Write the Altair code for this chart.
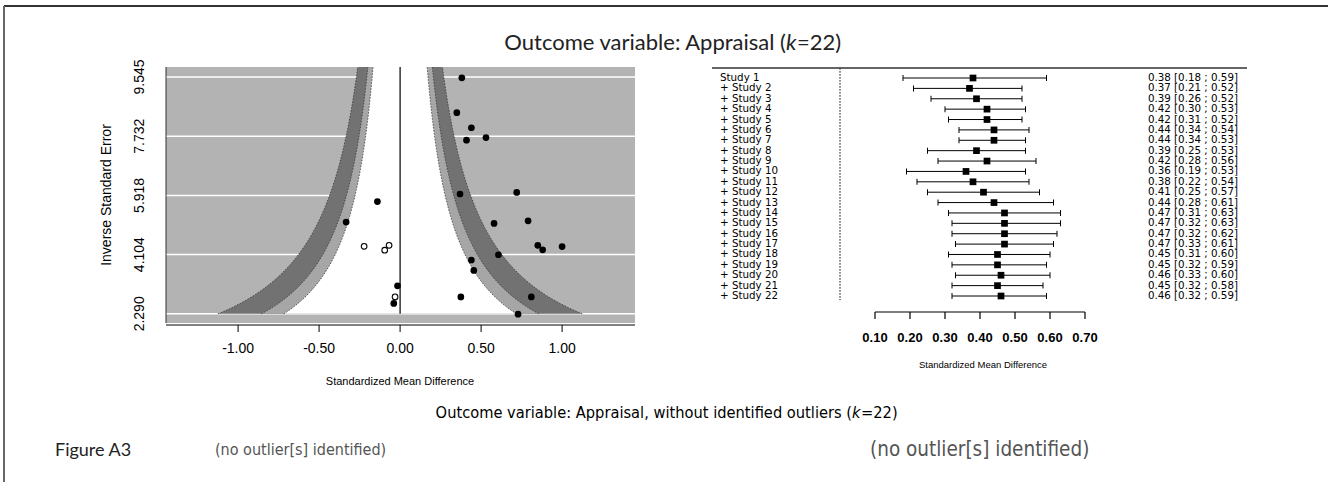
import altair as alt
import pandas as pd
import numpy as np

# ---------------- Funnel plot data ----------------
obs_smd = [-0.14, -0.333, -0.016, -0.039, 0.381, 0.35, 0.44, 0.41, 0.53, 0.37, 0.72,
           0.58, 0.79, 0.85, 0.88, 1.00, 0.607, 0.44, 0.455, 0.375, 0.81, 0.728]
obs_inv = [5.73, 5.10, 3.15, 2.61, 9.52, 8.45, 7.99, 7.61, 7.69, 5.96, 6.01,
           5.06, 5.14, 4.39, 4.25, 4.35, 4.10, 3.94, 3.62, 2.81, 2.81, 2.28]
imp_smd = [-0.222, -0.095, -0.068, -0.031]
imp_inv = [4.36, 4.24, 4.39, 2.81]
funnel_yticks = [2.290, 4.104, 5.918, 7.732, 9.545]
funnel_xticks = [-1.0, -0.5, 0.0, 0.5, 1.0]
contour_z = [2.576, 1.96, 1.645]          # 99%, 95%, 90% contours
contour_fill = ["#727272", "#a6a6a6", "#ffffff"]
funnel_xdom = [-1.445, 1.45]
funnel_ydom = [2.01, 9.85]
contour_ymin = 2.29

# ---------------- Forest (cumulative) plot data ----------------
studies = ["Study 1"] + [f"+ Study {i}" for i in range(2, 23)]
est = [0.38, 0.37, 0.39, 0.42, 0.42, 0.44, 0.44, 0.39, 0.42, 0.36, 0.38,
       0.41, 0.44, 0.47, 0.47, 0.47, 0.47, 0.45, 0.45, 0.46, 0.45, 0.46]
lo = [0.18, 0.21, 0.26, 0.30, 0.31, 0.34, 0.34, 0.25, 0.28, 0.19, 0.22,
      0.25, 0.28, 0.31, 0.32, 0.32, 0.33, 0.31, 0.32, 0.33, 0.32, 0.32]
hi = [0.59, 0.52, 0.52, 0.53, 0.52, 0.54, 0.53, 0.53, 0.56, 0.53, 0.54,
      0.57, 0.61, 0.63, 0.63, 0.62, 0.61, 0.60, 0.59, 0.60, 0.58, 0.59]
forest_xticks = [0.10, 0.20, 0.30, 0.40, 0.50, 0.60, 0.70]
forest_xdom = [0.1, 0.7]

SANS = "DejaVu Sans Condensed, Liberation Sans, sans-serif"
ARIAL = "Liberation Sans, Arial, sans-serif"
WIDE = "DejaVu Sans, Liberation Sans, sans-serif"
HUM = "Lato, Open Sans, sans-serif"

one = pd.DataFrame({"d": [0]})

# ================= Funnel layers =================
fxs = alt.Scale(domain=funnel_xdom, range=[166, 635], nice=False, zero=False)
fys = alt.Scale(domain=funnel_ydom, range=[323, 67], nice=False, zero=False)

def FX(f):
    return alt.X(f, scale=fxs, axis=None)

def FY(f):
    return alt.Y(f, scale=fys, axis=None)

bg_df = pd.DataFrame({"x": [funnel_xdom[0]], "x2": [funnel_xdom[1]],
                      "y": [funnel_ydom[0]], "y2": [funnel_ydom[1]]})
bg = alt.Chart(bg_df).mark_rect(color="#b3b3b3").encode(
    x=FX("x:Q"), x2="x2:Q", y=FY("y:Q"), y2="y2:Q")

grid_df = pd.DataFrame({"g": funnel_yticks, "x": funnel_xdom[0], "x2": funnel_xdom[1]})
grid = alt.Chart(grid_df).mark_rule(color="white", strokeWidth=1.5).encode(
    x=FX("x:Q"), x2="x2:Q", y=FY("g:Q"))

ygrid = np.linspace(contour_ymin, funnel_ydom[1], 150)
bands = []
edges = []
for z, col in zip(contour_z, contour_fill):
    d = pd.DataFrame({"y": ygrid, "l": -z / ygrid, "r": z / ygrid})
    bands.append(alt.Chart(d).mark_area(orient="horizontal", color=col, opacity=1).encode(
        y=FY("y:Q"), x=FX("l:Q"), x2="r:Q"))
    for side in (-1, 1):
        e = pd.DataFrame({"y": ygrid, "x": side * z / ygrid})
        edges.append(alt.Chart(e).mark_line(color="#333333", strokeWidth=0.8,
                                            strokeDash=[1.5, 1.5]).encode(
            y=FY("y:Q"), x=FX("x:Q"), order="y:Q"))

ref_df = pd.DataFrame({"x": [0.0], "y": [contour_ymin], "y2": [funnel_ydom[1]]})
refline = alt.Chart(ref_df).mark_rule(color="black", strokeWidth=1.2).encode(
    x=FX("x:Q"), y=FY("y:Q"), y2="y2:Q")

obs_df = pd.DataFrame({"smd": obs_smd, "inv": obs_inv})
imp_df = pd.DataFrame({"smd": imp_smd, "inv": imp_inv})

pts = alt.Chart(obs_df).mark_circle(size=45, color="black", opacity=1).encode(
    x=FX("smd:Q"), y=FY("inv:Q"))
imp = alt.Chart(imp_df).mark_point(shape="circle", size=32, filled=False, fill="white",
                                   fillOpacity=1, stroke="black", strokeWidth=1.1, opacity=1).encode(
    x=FX("smd:Q"), y=FY("inv:Q"))

# funnel axes drawn through the funnel scales
fx_dom = alt.Chart(bg_df).mark_rule(color="black", strokeWidth=1).encode(
    x=FX("x:Q"), x2="x2:Q", y=alt.value(325))
fxt_df = pd.DataFrame({"t": funnel_xticks, "lab": [f"{v:.2f}" for v in funnel_xticks]})
fx_ticks = alt.Chart(fxt_df).mark_rule(color="black", strokeWidth=1).encode(
    x=FX("t:Q"), y=alt.value(325), y2=alt.value(332))
fx_labs = alt.Chart(fxt_df).mark_text(font=ARIAL, fontSize=14, color="black",
                                      baseline="middle", align="center").encode(
    x=FX("t:Q"), y=alt.value(349), text="lab:N")
fy_dom = alt.Chart(bg_df).mark_rule(color="#333333", strokeWidth=1).encode(
    x=alt.value(166), y=FY("y:Q"), y2="y2:Q")
fyt_df = pd.DataFrame({"t": funnel_yticks, "lab": [f"{v:.3f}" for v in funnel_yticks]})
fy_labs = alt.Chart(fyt_df).mark_text(font=ARIAL, fontSize=14, color="black", angle=270,
                                      baseline="middle", align="center").encode(
    x=alt.value(140), y=FY("t:Q"), text="lab:N")

funnel = alt.layer(bg, grid, *bands, *edges, refline, pts, imp,
                   fx_dom, fx_ticks, fx_labs, fy_dom, fy_labs)

# ================= Forest layers =================
gxs = alt.Scale(domain=forest_xdom, range=[875, 1085], nice=False, zero=False)
gys = alt.Scale(domain=[1, 22], range=[78, 296], nice=False, zero=False)

def GX(f):
    return alt.X(f, scale=gxs, axis=None)

def GY(f):
    return alt.Y(f, scale=gys, axis=None)

rows = list(range(1, 23))
fdf = pd.DataFrame({"row": rows, "study": studies, "est": est, "lo": lo, "hi": hi})
fdf["lab"] = [f"{e:.2f} [{a:.2f} ; {b:.2f}]" for e, a, b in zip(est, lo, hi)]

zero_df = pd.DataFrame({"x": [0.0], "y": [0.05], "y2": [22.4]})
zeroline = alt.Chart(zero_df).mark_rule(color="black", strokeWidth=1, strokeDash=[1.5, 1.5]).encode(
    x=GX("x:Q"), y=GY("y:Q"), y2="y2:Q")

ci = alt.Chart(fdf).mark_rule(color="black", strokeWidth=1).encode(
    x=GX("lo:Q"), x2="hi:Q", y=GY("row:Q"))
cap_lo = alt.Chart(fdf).mark_tick(orient="vertical", size=6, thickness=1, color="black", opacity=1).encode(
    x=GX("lo:Q"), y=GY("row:Q"))
cap_hi = alt.Chart(fdf).mark_tick(orient="vertical", size=6, thickness=1, color="black", opacity=1).encode(
    x=GX("hi:Q"), y=GY("row:Q"))
sq = alt.Chart(fdf).mark_square(size=45, color="black", opacity=1).encode(
    x=GX("est:Q"), y=GY("row:Q"))

labels = alt.Chart(fdf).mark_text(align="left", baseline="middle", font=WIDE, fontSize=10.3,
                                  color="black").encode(
    x=alt.value(720), y=GY("row:Q"), text="study:N")
nums = alt.Chart(fdf).mark_text(align="right", baseline="middle", font=WIDE, fontSize=10.3,
                                color="black").encode(
    x=alt.value(1238), y=GY("row:Q"), text="lab:N")

gdom_df = pd.DataFrame({"x": [forest_xdom[0]], "x2": [forest_xdom[1]]})
gx_dom = alt.Chart(gdom_df).mark_rule(color="black", strokeWidth=1.2).encode(
    x=GX("x:Q"), x2="x2:Q", y=alt.value(312))
gxt_df = pd.DataFrame({"t": forest_xticks, "lab": [f"{v:.2f}" for v in forest_xticks]})
gx_ticks = alt.Chart(gxt_df).mark_rule(color="black", strokeWidth=1.2).encode(
    x=GX("t:Q"), y=alt.value(312), y2=alt.value(319))
gx_labs = alt.Chart(gxt_df).mark_text(font=ARIAL, fontSize=13, fontWeight="bold", color="black",
                                      baseline="middle", align="center").encode(
    x=GX("t:Q"), y=alt.value(338), text="lab:N")

forest = alt.layer(zeroline, ci, cap_lo, cap_hi, sq, labels, nums, gx_dom, gx_ticks, gx_labs)

# ================= Decorations / texts =================
def txt(s, x, y, size, font, align="left", color="black", style="normal",
        baseline="alphabetic", angle=0):
    return alt.Chart(one).mark_text(text=s, align=align, baseline=baseline, fontSize=size,
                                    font=font, color=color, fontStyle=style, angle=angle).encode(
        x=alt.value(x), y=alt.value(y))

frame_top = alt.Chart(one).mark_rule(color="#333333", strokeWidth=2).encode(
    x=alt.value(4), x2=alt.value(1328), y=alt.value(6))
frame_left = alt.Chart(one).mark_rule(color="#666666", strokeWidth=2).encode(
    x=alt.value(4), y=alt.value(6), y2=alt.value(482))
forest_top = alt.Chart(one).mark_rule(color="#333333", strokeWidth=1.5).encode(
    x=alt.value(712), x2=alt.value(1247), y=alt.value(68))

texts = [
    txt("Outcome variable: Appraisal (", 786, 50, 22, HUM, align="right", color="#222222"),
    txt("k", 786, 50, 22, HUM, style="italic", color="#222222"),
    txt("=22)", 797, 50, 22, HUM, color="#222222"),
    txt("Inverse Standard Error", 107, 195, 14, ARIAL, align="center", baseline="middle", angle=270),
    txt("Standardized Mean Difference", 400, 382, 11, ARIAL, align="center", baseline="middle"),
    txt("Standardized Mean Difference", 983, 365, 9.5, ARIAL, align="center", baseline="middle"),
    txt("Outcome variable: Appraisal, without identified outliers (", 852, 418, 16.3, SANS, align="right"),
    txt("k", 852, 418, 16.3, SANS, style="italic"),
    txt("=22)", 861, 418, 16.3, SANS),
    txt("Figure A3", 55, 456, 18, HUM, color="#222222"),
    txt("(no outlier[s] identified)", 215, 455, 16, SANS, color="#555555"),
    txt("(no outlier[s] identified)", 870, 456, 20.5, SANS, color="#555555"),
]

chart = alt.layer(frame_top, frame_left, funnel, forest, forest_top, *texts).resolve_scale(
    x="independent", y="independent"
).properties(width=1328, height=482, autosize="none", padding=0, background="white"
).configure_view(strokeWidth=0)

chart.save("out.html", embed_options={"renderer": "svg", "actions": False})
